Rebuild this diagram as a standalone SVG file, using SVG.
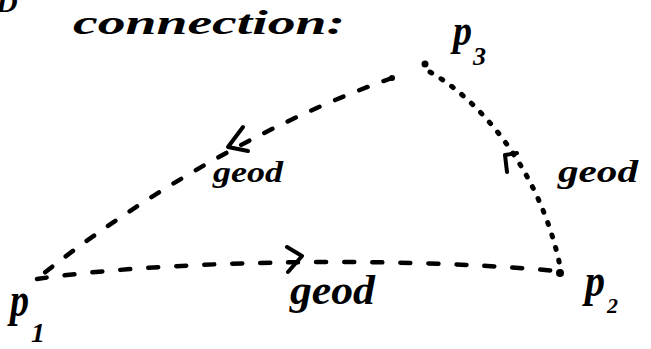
<svg xmlns="http://www.w3.org/2000/svg" width="651" height="349" viewBox="0 0 651 349">
  <style>
    .hand { font-family: "Liberation Serif", "DejaVu Serif", serif; font-style: italic; font-weight: bold; fill: #000; }
    .lbl { font-family: "Liberation Serif", "DejaVu Serif", serif; font-style: italic; font-weight: bold; fill: #000; }
    .dash { fill: none; stroke: #000; stroke-width: 4.5; stroke-linecap: round; }
    .dot { fill: none; stroke: #000; stroke-width: 5; stroke-linecap: round; }
    .arrow { fill: none; stroke: #000; stroke-width: 4; stroke-linecap: round; stroke-linejoin: round; }
  </style>
  <rect width="651" height="349" fill="#fff"/>

  <g id="title">
    <text class="hand" x="-4" y="12" font-size="30">D</text>
    <text class="hand" x="73" y="34" font-size="34" textLength="272" lengthAdjust="spacingAndGlyphs">connection:</text>
  </g>

  <g id="connectors">
    <!-- P1 to P2 -->
    <path class="dash" d="M 37,279 C 150,262 380,255 557,271" stroke-dasharray="10 18"/>
    <polyline class="arrow" points="287,247 302,256 288,272"/>
    <!-- P3 to P1 -->
    <path class="dash" d="M 392,78 C 230,135 90,235 37,279" stroke-dasharray="9 17"/>
    <polyline class="arrow" points="243,127 228,147 248,151"/>
    <!-- P2 to P3 -->
    <path class="dot" d="M 430,72 C 480,100 540,170 560,266" stroke-dasharray="2 11"/>
    <polyline class="arrow" points="507,172 505,155 517,153"/>
  </g>

  <g id="p1">
    <text class="lbl" x="10" y="316" font-size="48" textLength="19" lengthAdjust="spacingAndGlyphs">p</text>
    <text class="lbl" x="31" y="342" font-size="28">1</text>
  </g>
  <g id="p2">
    <circle cx="560" cy="273" r="4"/>
    <text class="lbl" x="585" y="296" font-size="46" textLength="20" lengthAdjust="spacingAndGlyphs">p</text>
    <text class="lbl" x="607" y="313" font-size="22">2</text>
  </g>
  <g id="p3">
    <circle cx="425" cy="64" r="3.5"/>
    <circle cx="392" cy="78" r="3"/>
    <text class="lbl" x="453" y="45" font-size="44" textLength="19" lengthAdjust="spacingAndGlyphs">p</text>
    <text class="lbl" x="473" y="65" font-size="26">3</text>
  </g>

  <g id="labels">
    <text class="lbl" x="213" y="182" font-size="30" textLength="70" lengthAdjust="spacingAndGlyphs">geod</text>
    <text class="lbl" x="558" y="182" font-size="32" textLength="80" lengthAdjust="spacingAndGlyphs">geod</text>
    <text class="lbl" x="290" y="304" font-size="42" textLength="85" lengthAdjust="spacingAndGlyphs">geod</text>
  </g>
</svg>
